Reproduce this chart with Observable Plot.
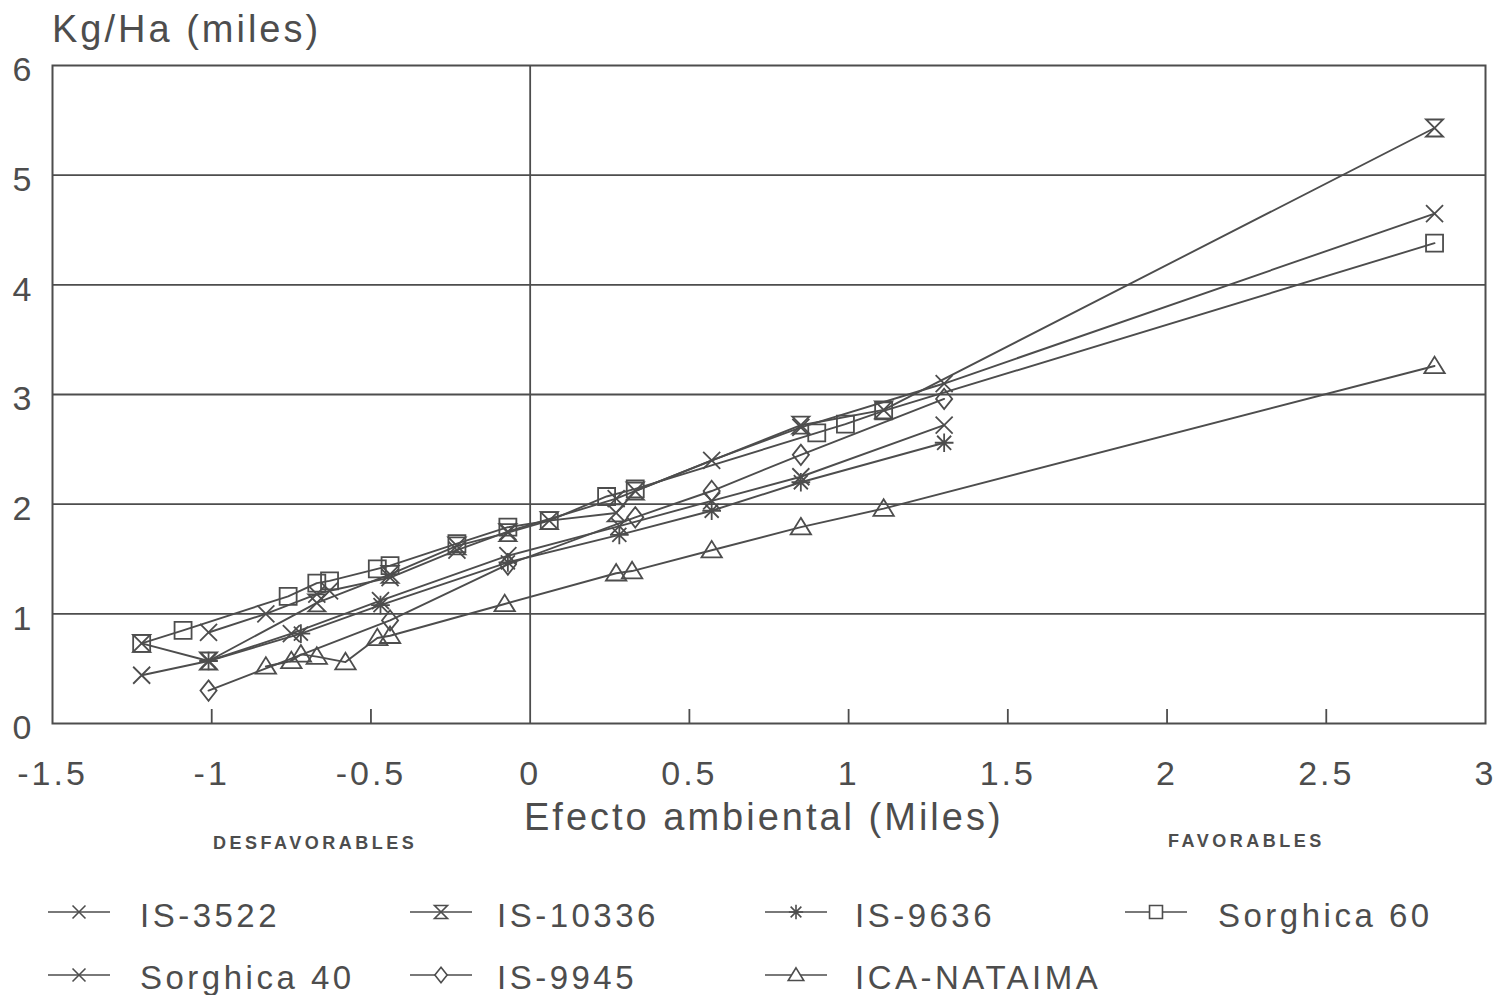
<!DOCTYPE html>
<html><head><meta charset="utf-8">
<script src="https://cdn.jsdelivr.net/npm/d3@7"></script>
<script src="https://cdn.jsdelivr.net/npm/@observablehq/plot@0.6"></script>
<style>
body{margin:0;background:#fff;}
#wrap{position:relative;width:1499px;height:995px;font-family:"Liberation Sans",Arial,sans-serif;color:#4d4d4d;overflow:hidden;}
.t{position:absolute;white-space:nowrap;letter-spacing:3px;line-height:1;}
</style></head><body><div id="wrap"></div>
<script>
// ---- data ----
const seriesNames = ["IS-3522","IS-10336","IS-9636","Sorghica 60","Sorghica 40","IS-9945","ICA-NATAIMA"];
const xIS3522 = [-1.22,-1.01,-0.75,-0.47,-0.07,0.28,0.57,0.85,1.30];
const yIS3522 = [0.44,0.57,0.82,1.12,1.53,1.80,2.03,2.25,2.72];
const xIS10336 = [-1.22,-1.01,-0.67,-0.44,-0.23,-0.07,0.06,0.27,0.33,0.85,1.11,2.84];
const yIS10336 = [0.73,0.57,1.10,1.36,1.62,1.74,1.85,1.92,2.12,2.72,2.86,5.43];
const xIS9636 = [-1.01,-0.72,-0.47,-0.07,0.28,0.57,0.85,1.30];
const yIS9636 = [0.57,0.82,1.08,1.47,1.72,1.94,2.20,2.56];
const xS60 = [-1.22,-1.09,-0.76,-0.67,-0.63,-0.48,-0.44,-0.23,-0.07,0.06,0.24,0.33,0.90,0.99,1.11,2.84];
const yS60 = [0.73,0.85,1.16,1.28,1.30,1.41,1.44,1.64,1.79,1.85,2.07,2.14,2.65,2.73,2.85,4.38];
const xS40 = [-1.01,-0.83,-0.67,-0.63,-0.44,-0.23,-0.07,0.27,0.57,0.85,1.30,2.84];
const yS40 = [0.83,1.00,1.18,1.21,1.33,1.58,1.75,2.05,2.40,2.70,3.10,4.65];
const xIS9945 = [-1.01,-0.44,-0.07,0.33,0.57,0.85,1.30];
const yIS9945 = [0.30,0.94,1.45,1.88,2.12,2.45,2.96];
const xICA = [-0.83,-0.75,-0.72,-0.67,-0.58,-0.48,-0.44,-0.08,0.27,0.32,0.57,0.85,1.11,2.84];
const yICA = [0.52,0.57,0.63,0.61,0.56,0.78,0.80,1.09,1.37,1.39,1.58,1.79,1.96,3.26];
const xTicks = [-1.5,-1,-0.5,0,0.5,1,1.5,2,2.5,3];
const yTicks = [0,1,2,3,4,5,6];
const yGrid = [1,2,3,4,5];
const xInnerTicks = [-1,-0.5,0.5,1,1.5,2,2.5];

// ---- custom open symbols ----
const hs = s => Math.sqrt(s/Math.PI);
const symTimes = {draw(c,s){const h=hs(s);c.moveTo(-h,-h);c.lineTo(h,h);c.moveTo(h,-h);c.lineTo(-h,h);}};
const symHour = {draw(c,s){const h=hs(s);c.moveTo(-h,-h);c.lineTo(h,-h);c.lineTo(-h,h);c.lineTo(h,h);c.closePath();}};
const symAst = {draw(c,s){const h=hs(s)*1.1,d=h*0.75;c.moveTo(0,-h);c.lineTo(0,h);c.moveTo(-h,0);c.lineTo(h,0);c.moveTo(-d,-d);c.lineTo(d,d);c.moveTo(d,-d);c.lineTo(-d,d);}};
const symSq = {draw(c,s){const h=hs(s);c.rect(-h,-h,2*h,2*h);}};
const symDia = {draw(c,s){const h=hs(s);c.moveTo(0,-h*1.2);c.lineTo(h*0.95,0);c.lineTo(0,h*1.2);c.lineTo(-h*0.95,0);c.closePath();}};
const symTri = {draw(c,s){const h=hs(s);c.moveTo(0,-h*1.1);c.lineTo(h*1.2,h*0.85);c.lineTo(-h*1.2,h*0.85);c.closePath();}};

const table = (xs, ys) => xs.map((x,i)=>({x, y: ys[i]}));
const series = [
  {name: seriesNames[0], data: table(xIS3522,yIS3522), sym: symTimes},
  {name: seriesNames[1], data: table(xIS10336,yIS10336), sym: symHour},
  {name: seriesNames[2], data: table(xIS9636,yIS9636), sym: symAst},
  {name: seriesNames[3], data: table(xS60,yS60), sym: symSq},
  {name: seriesNames[4], data: table(xS40,yS40), sym: symTimes},
  {name: seriesNames[5], data: table(xIS9945,yIS9945), sym: symDia},
  {name: seriesNames[6], data: table(xICA,yICA), sym: symTri},
];
const ink = "#4d4d4d";

const marks = [
  Plot.ruleY(yGrid, {stroke: ink, strokeWidth: 1.8}),
  Plot.ruleX([0], {stroke: ink, strokeWidth: 1.8}),
  Plot.ruleX(xInnerTicks, {stroke: ink, strokeWidth: 1.8, insetTop: 644}),
  Plot.frame({stroke: ink, strokeWidth: 2}),
  Plot.axisY(yTicks, {tickSize: 0, tickPadding: 18, dy: 5, fontSize: 34, tickFormat: d => String(d)}),
  Plot.axisX(xTicks, {tickSize: 0, tickPadding: 37, fontSize: 34, tickFormat: d => String(d)}),
];
for (const s of series) {
  marks.push(Plot.line(s.data, {x: "x", y: "y", stroke: ink, strokeWidth: 1.9}));
  marks.push(Plot.dot(s.data, {x: "x", y: "y", symbol: s.sym, r: 8.5, stroke: ink, strokeWidth: 1.8, fill: "none"}));
}

const chart = Plot.plot({
  width: 1499, height: 800,
  marginTop: 65, marginBottom: 77, marginLeft: 52, marginRight: 14,
  x: {domain: [-1.5, 3], label: null},
  y: {domain: [0, 6], label: null},
  style: {fontFamily: "'Liberation Sans', Arial, sans-serif", color: ink, letterSpacing: "3px", background: "#fff", overflow: "visible"},
  marks
});
chart.style.position = "absolute"; chart.style.left = "0"; chart.style.top = "0";
const wrap = document.getElementById("wrap");
wrap.appendChild(chart);

function addText(txt, left, top, size, extra) {
  const d = document.createElement("div");
  d.className = "t"; d.textContent = txt;
  d.style.left = left + "px"; d.style.top = top + "px"; d.style.fontSize = size + "px";
  if (extra) Object.assign(d.style, extra);
  wrap.appendChild(d);
}
addText("Kg/Ha (miles)", 52, 10, 38);
addText("Efecto ambiental (Miles)", 524, 798, 38);
addText("DESFAVORABLES", 213, 834, 18, {fontWeight: "bold", letterSpacing: "3.5px"});
addText("FAVORABLES", 1168, 832, 18, {fontWeight: "bold", letterSpacing: "3.5px"});

// ---- legend ----
const legendPos = [
  {lx: 48, tx: 140, row: 0}, {lx: 410, tx: 497, row: 0}, {lx: 765, tx: 855, row: 0}, {lx: 1125, tx: 1218, row: 0},
  {lx: 48, tx: 140, row: 1}, {lx: 410, tx: 497, row: 1}, {lx: 765, tx: 855, row: 1}
];
const rowY = [912, 975];
const rowTextTop = [899, 961];
const svg = d3.select(wrap).append("svg").attr("width",1499).attr("height",995)
  .style("position","absolute").style("left","0").style("top","0").style("pointer-events","none");
series.forEach((s,i)=>{
  const p = legendPos[i], y = rowY[p.row];
  svg.append("line").attr("x1",p.lx).attr("x2",p.lx+62).attr("y1",y).attr("y2",y).attr("stroke",ink).attr("stroke-width",1.6);
  svg.append("path").attr("d", d3.symbol(s.sym, 42*Math.PI)()).attr("transform",`translate(${p.lx+31},${y})`)
    .attr("fill","#fff").attr("stroke",ink).attr("stroke-width",1.6);
  addText(s.name, p.tx, rowTextTop[p.row], 33, {letterSpacing: "3.5px"});
});
</script></body></html>
